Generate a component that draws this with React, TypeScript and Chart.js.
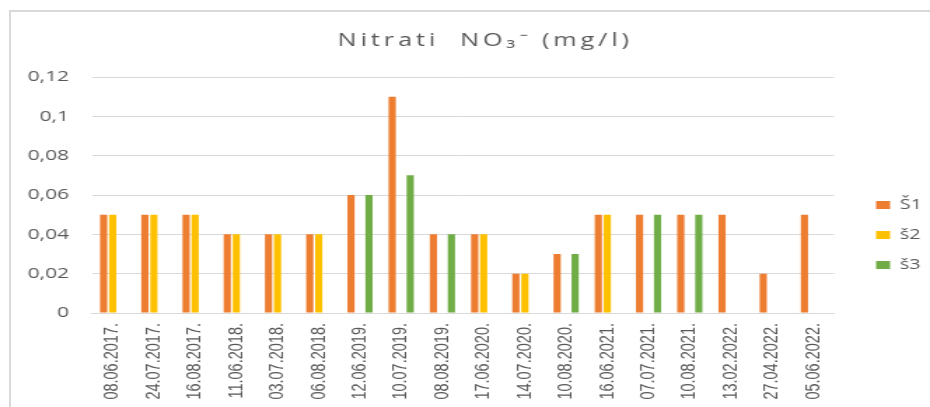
import React, { useEffect, useRef } from "react";
import { Chart, registerables } from "chart.js";
Chart.register(...registerables);

const categories = [
  "08.06.2017.", "24.07.2017.", "16.08.2017.", "11.06.2018.", "03.07.2018.", "06.08.2018.",
  "12.06.2019.", "10.07.2019.", "08.08.2019.", "17.06.2020.", "14.07.2020.", "10.08.2020.",
  "16.06.2021.", "07.07.2021.", "10.08.2021.", "13.02.2022.", "27.04.2022.", "05.06.2022.",
];
const seriesNames = ["Š1", "š2", "š3"];
const s1 = [0.05, 0.05, 0.05, 0.04, 0.04, 0.04, 0.06, 0.11, 0.04, 0.04, 0.02, 0.03, 0.05, 0.05, 0.05, 0.05, 0.02, 0.05];
const s2 = [0.05, 0.05, 0.05, 0.04, 0.04, 0.04, null, null, null, 0.04, 0.02, null, 0.05, null, null, null, null, null];
const s3 = [null, null, null, null, null, null, 0.06, 0.07, 0.04, null, null, 0.03, null, 0.05, 0.05, null, null, null];
const seriesColors = ["#ED7D31", "#FFC000", "#70AD47"];
const yMin = 0;
const yMax = 0.12;
const yStep = 0.02;
const titleText = "Nitrati  NO\u2083\u207B (mg/l)";

const W = 664;
const H = 407;
const SX = 930 / W;
const TEXT = "#595959";

export default function App() {
  const ref = useRef<HTMLCanvasElement | null>(null);
  useEffect(() => {
    if (!ref.current) return;
    const spacingPlugin = {
      id: "titleSpacing",
      afterInit(chart: any) {
        const tb = chart.titleBlock;
        if (tb && !tb.__patched) {
          const orig = tb.draw.bind(tb);
          tb.draw = function (area: any) {
            const ctx: any = chart.ctx;
            const prev = ctx.letterSpacing;
            ctx.save();
            ctx.translate(14.5, 0);
            ctx.letterSpacing = "2.8px";
            orig(area);
            ctx.restore();
            ctx.letterSpacing = prev || "0px";
          };
          tb.__patched = true;
        }
      },
    };
    const chart = new Chart(ref.current, {
      type: "bar",
      data: {
        labels: categories,
        datasets: [s1, s2, s3].map((d, i) => ({
          label: seriesNames[i],
          data: d,
          backgroundColor: seriesColors[i],
          borderWidth: 0,
          categoryPercentage: 0.655,
          barPercentage: 0.8,
        })),
      },
      options: {
        responsive: false,
        animation: false,
        layout: { padding: { left: 0, right: 0, top: 0, bottom: 0 } },
        plugins: {
          tooltip: { enabled: false },
          title: {
            display: true,
            text: titleText,
            color: TEXT,
            font: { family: "'Open Sans'", size: 18, weight: "normal" },
            padding: { top: 30.2, bottom: 25.2 },
          },
          legend: {
            position: "right",
            align: "center",
            maxWidth: 54.5,
            title: { display: true, text: " ", font: { size: 14 }, padding: { top: 23, bottom: 23 } },
            labels: {
              boxWidth: 10,
              boxHeight: 8,
              padding: 16,
              color: TEXT,
              font: { family: "'Open Sans'", size: 14 },
            },
          },
        },
        scales: {
          x: {
            grid: { display: false, drawTicks: false },
            border: { display: true, color: "#d9d9d9", width: 1 },
            ticks: {
              autoSkip: false,
              minRotation: 90,
              maxRotation: 90,
              padding: 10,
              color: TEXT,
              font: { family: "'Liberation Sans'", size: 14.5 },
            },
            afterFit(s: any) {
              s.height = 94;
            },
          },
          y: {
            min: yMin,
            max: yMax,
            grid: { color: "#d9d9d9", lineWidth: 1, drawTicks: false },
            border: { display: false },
            ticks: {
              stepSize: yStep,
              padding: 16.4,
              color: TEXT,
              font: { family: "'Open Sans'", size: 15 },
              callback: (v: any) => String(parseFloat(Number(v).toFixed(2))).replace(".", ","),
            },
            afterFit(s: any) {
              s.width = 65.7;
            },
          },
          yR: {
            type: "linear",
            position: "right",
            display: true,
            grid: { display: false, drawTicks: false },
            border: { display: false },
            ticks: { display: false },
            afterFit(s: any) {
              s.width = 14;
            },
          },
        },
      } as any,
      plugins: [spacingPlugin],
    });
    chart.draw();
    return () => chart.destroy();
  }, []);

  return (
    <div style={{ position: "absolute", left: 0, top: 0, width: 930, height: 407, overflow: "hidden", background: "#fff" }}>
      <div
        style={{
          position: "absolute",
          left: 9,
          top: 10,
          width: 1000,
          height: 500,
          border: "2px solid #d9d9d9",
          boxSizing: "border-box",
          pointerEvents: "none",
        }}
      />
      <div style={{ position: "absolute", left: 0, top: 0, width: W, height: H, transform: `scaleX(${SX})`, transformOrigin: "0 0" }}>
        <canvas ref={ref} width={W} height={H} />
      </div>
    </div>
  );
}
